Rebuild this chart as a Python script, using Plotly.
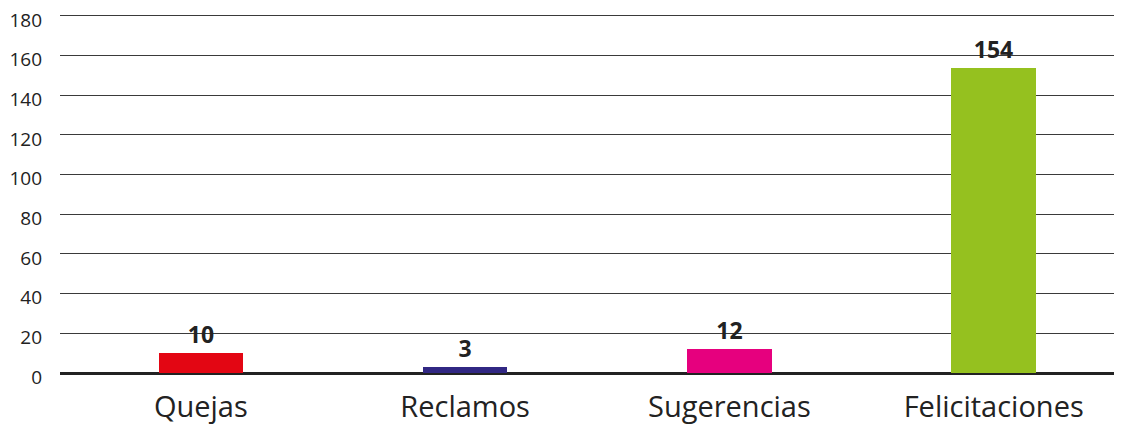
import plotly.graph_objects as go

categories = ["Quejas", "Reclamos", "Sugerencias", "Felicitaciones"]
values = [10, 3, 12, 154]
colors = ["#E30613", "#312783", "#E6007E", "#95C11F"]
y_ticks = [0, 20, 40, 60, 80, 100, 120, 140, 160, 180]

fig = go.Figure(go.Bar(
    x=list(range(len(categories))),
    y=values,
    marker=dict(color=colors, line=dict(width=0)),
    width=0.32,
    text=[str(v) for v in values],
    textposition="outside",
    textfont=dict(family="Open Sans", size=23, color="#222222", weight="bold"),
    cliponaxis=False,
))

fig.update_layout(
    width=1122, height=428,
    margin=dict(l=52, r=10, t=2, b=63),
    paper_bgcolor="white", plot_bgcolor="white",
    showlegend=False,
    bargap=0,
    font=dict(family="Open Sans", color="#222222"),
)
fig.update_xaxes(
    tickmode="array",
    tickvals=list(range(len(categories))),
    ticktext=categories,
    range=[-0.533, 3.478],
    showgrid=False, zeroline=False, showline=False,
    tickfont=dict(size=29, color="#222222"),
    ticks="", ticklabelstandoff=14,
    automargin=False,
)
fig.update_yaxes(
    range=[0, 183],
    tickmode="array", tickvals=y_ticks,
    showgrid=True, gridcolor="#3a3a3a", gridwidth=1.3,
    zeroline=True, zerolinecolor="#222222", zerolinewidth=2.5,
    showline=False,
    tickfont=dict(size=19, color="#222222"),
    ticks="", ticklabelstandoff=17,
    ticklabelshift=4,
    ticklabeloverflow="allow",
    automargin=False,
)

fig.write_html("out.html")
